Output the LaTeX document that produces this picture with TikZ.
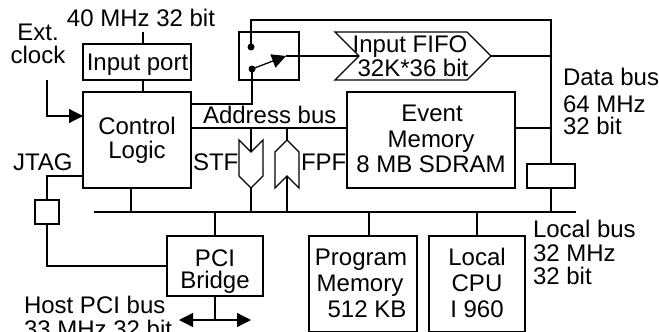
\documentclass[tikz,border=0pt]{standalone}
\usepackage{fontspec}
\setmainfont{Liberation Sans}
\usetikzlibrary{arrows.meta}
\tikzset{
  x=1pt,y=-1pt,
  line/.style={line width=1.3pt,line join=miter},
  box/.style={draw,line width=1.3pt,inner sep=0pt,outer sep=0pt},
  txt/.style={anchor=base,inner sep=0pt,outer sep=0pt,font=\fontsize{24}{24}\selectfont},
  txl/.style={txt,anchor=base west},
  tip/.style={-{Triangle[length=14pt,width=14pt]}},
  dot/.style={circle,fill=black,inner sep=0pt,minimum size=7pt},
}
\begin{document}
\begin{tikzpicture}
\useasboundingbox (0,0) rectangle (659,332);
\clip (0,0) rectangle (659,332);
% boxes
\node[box,minimum width=108pt,minimum height=36pt] (inport) at (137,62) {};
\node[box,minimum width=108pt,minimum height=96pt] (ctrl) at (137,140) {};
\node[box,minimum width=60pt,minimum height=48pt] (switch) at (269,56) {};
\node[box,minimum width=168pt,minimum height=96pt] (event) at (431,140) {};
\node[box,minimum width=48pt,minimum height=24pt] (buf) at (551,176) {};
\node[box,minimum width=24pt,minimum height=24pt] (jbox) at (47,212) {};
\node[box,minimum width=96pt,minimum height=60pt] (pci) at (215,266) {};
\node[box,minimum width=108pt,minimum height=96pt] (prog) at (363,284) {};
\node[box,minimum width=96pt,minimum height=96pt] (cpu) at (477,284) {};
\node[dot] (d1) at (251,47) {};
\node[dot] (d2) at (252,69) {};
% FIFO and gateways
\draw[line] (335,32) -- (467,32) -- (491,56) -- (467,80) -- (335,80) -- (359,56) -- cycle;
\coordinate (fifoin) at (359,56);
\coordinate (fifoout) at (491,56);
\draw[line] (239,140) -- (251,152) -- (263,140) -- (263,176) -- (251,188) -- (239,176) -- cycle;
\coordinate (stftop) at (251,152);
\coordinate (stfbot) at (251,188);
\draw[line] (287,140) -- (299,152) -- (299,188) -- (287,176) -- (275,188) -- (275,152) -- cycle;
\coordinate (fpftop) at (287,140);
\coordinate (fpfbot) at (287,176);
% named junctions
\coordinate (busL) at (94,212);
\coordinate (busR) at (576,212);
\coordinate (top) at (143,32);
\coordinate (ext) at (47,80);
\coordinate (dataTR) at (551,20);
\coordinate (armend) at (286,56);
\coordinate (hostL) at (179,320);
\coordinate (hostR) at (251,320);
% connectors
\draw[line] (top) -- (top |- inport.north);
\draw[line] (inport.south -| top) -- (ctrl.north -| top);
\draw[line,tip] (ext) |- (ctrl.west |- 0,116);
\draw[line] (ctrl.east |- 0,104) -| (d2.center);
\draw[line] (d1.center) |- (dataTR) -- (buf.north);
\draw[line,tip] (d2.center) -- (armend);
\draw[line] (armend) -- (fifoin);
\draw[line] (fifoout) -- (fifoout -| dataTR);
\draw[line] (ctrl.east |- 0,128) -- (event.west |- 0,128);
\draw[line] (event.east |- 0,128) -- (dataTR |- 0,128);
\draw[line] (stftop |- 0,128) -- (stftop);
\draw[line] (fpftop |- 0,128) -- (fpftop);
\draw[line] (stfbot) -- (stfbot |- busL);
\draw[line] (fpfbot) -- (fpfbot |- busL);
\draw[line] (busL) -- (busR);
\draw[line] (ctrl.south) ++(-6,0) -- ++(0,24);
\draw[line] (buf.south) -- (buf.south |- busL);
\draw[line] (ctrl.west |- 0,176) -| (jbox.north);
\draw[line] (jbox.south) |- (pci.west);
\draw[line] (pci.north) -- (pci.north |- busL);
\draw[line] (prog.north -| 369,0) -- (369,212);
\draw[line] (cpu.north) -- (cpu.north |- busL);
\draw[line] (pci.south) -- (pci.south |- hostL);
\draw[line,{Triangle[length=14pt,width=14pt]}-{Triangle[length=14pt,width=14pt]}] (hostL) -- (hostR);
% texts
\node[txt] (t40) at (141,27) {40 MHz 32 bit};
\node[txt] (tx1) at (38,40) {Ext.};
\node[txt] (tx2) at (38,63) {clock};
\node[txt] (tip) at (137.5,70) {Input port};
\node[txt] (tc1) at (137,134) {Control};
\node[txt] (tc2) at (137,158) {Logic};
\node[txl] (tab) at (203,123) {Address bus};
\node[txl] (tstf) at (193,170) {STF};
\node[txl] (tfpf) at (301,170) {FPF};
\node[txl] (tjt) at (13,170) {JTAG};
\node[txt] (tf1) at (410,52) {Input FIFO};
\node[txt] (tf2) at (413,76) {32K*36 bit};
\node[txt] (te1) at (432,121) {Event};
\node[txt] (te2) at (431,147) {Memory};
\node[txt] (te3) at (431,172) {8 MB SDRAM};
\node[txl] (td1) at (563,85) {Data bus};
\node[txl] (td2) at (563,112) {64 MHz};
\node[txl] (td3) at (563,134) {32 bit};
\node[txl] (tl1) at (533,237) {Local bus};
\node[txl] (tl2) at (533,261) {32 MHz};
\node[txl] (tl3) at (533,284) {32 bit};
\node[txt] (tp1) at (215,266) {PCI};
\node[txt] (tp2) at (215,288) {Bridge};
\node[txt] (tm1) at (361,265) {Program};
\node[txt] (tm2) at (360,291) {Memory};
\node[txt] (tm3) at (367,317) {512 KB};
\node[txt] (tu1) at (477,265) {Local};
\node[txt] (tu2) at (477,291) {CPU};
\node[txt] (tu3) at (477,317) {I 960};
\node[txl] (th1) at (24,313) {Host PCI bus};
\node[txl] (th2) at (24,337) {33 MHz 32 bit};
\end{tikzpicture}
\end{document}
